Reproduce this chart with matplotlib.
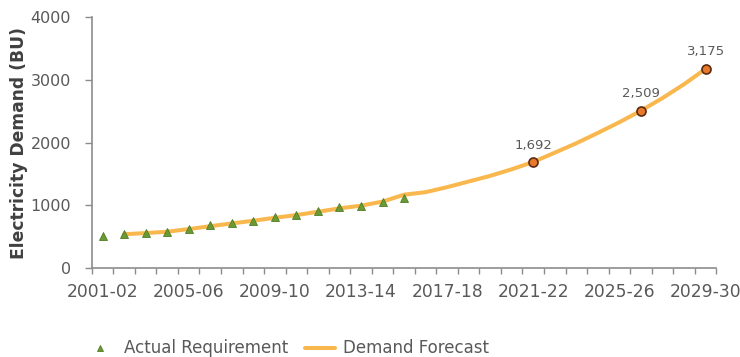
import matplotlib
matplotlib.use('Agg')
import matplotlib.pyplot as plt
import numpy as np

# fiscal years on the x axis
years = ['2001-02', '2002-03', '2003-04', '2004-05', '2005-06', '2006-07',
         '2007-08', '2008-09', '2009-10', '2010-11', '2011-12', '2012-13',
         '2013-14', '2014-15', '2015-16', '2016-17', '2017-18', '2018-19',
         '2019-20', '2020-21', '2021-22', '2022-23', '2023-24', '2024-25',
         '2025-26', '2026-27', '2027-28', '2028-29', '2029-30']
tick_labels = ['2001-02', '2005-06', '2009-10', '2013-14',
               '2017-18', '2021-22', '2025-26', '2029-30']

# actual requirement, 2001-02 .. 2015-16
actual = [505, 540, 555, 578, 618, 680, 725, 757, 820, 852, 915, 978, 990, 1052, 1110]

# demand forecast, 2002-03 .. 2029-30
forecast = [540, 558, 580, 622, 668, 712, 755, 802, 845, 898, 952, 995, 1060, 1170,
            1210, 1290, 1380, 1470, 1575, 1692, 1840, 1990, 2155, 2325, 2509,
            2710, 2930, 3175]

# labelled forecast points
marked_years = ['2021-22', '2026-27', '2029-30']
marked_values = [1692, 2509, 3175]

x_actual = np.arange(len(actual))
x_forecast = np.arange(1, 1 + len(forecast))
x_marked = [years.index(y) for y in marked_years]

text_col = '#595959'
axis_col = '#8c8c8c'

fig = plt.figure(figsize=(7.4, 3.57), dpi=100)
ax = fig.add_axes([0.124, 0.249, 0.844, 0.703])

ax.plot(x_forecast, forecast, color='#F9B84E', lw=2.9, solid_capstyle='round',
        zorder=2, label='Demand Forecast')
ax.plot(x_actual, actual, ls='none', marker='^', ms=6, mfc='#6B9A35',
        mec='#4E7D24', mew=0.6, zorder=3, label='Actual Requirement')
ax.plot(x_marked, marked_values, ls='none', marker='o', ms=6.5, mfc='#E8782A',
        mec='#5A2A10', mew=1.2, zorder=4)

for xm, v in zip(x_marked, marked_values):
    ax.annotate(f'{v:,}', (xm, v), xytext=(0, 7.5), textcoords='offset points',
                ha='center', va='bottom', fontsize=9.5, color=text_col)

ax.set_xlim(-0.5, len(years) - 0.5)
ax.set_ylim(0, 4000)
ax.set_yticks([0, 1000, 2000, 3000, 4000])
ax.set_xticks([years.index(t) for t in tick_labels])
ax.set_xticklabels(tick_labels)
ax.set_xticks(np.arange(-0.5, len(years)), minor=True)

ax.tick_params(axis='x', which='major', length=0, pad=11, labelsize=12.3, labelcolor=text_col)
ax.tick_params(axis='x', which='minor', length=4, width=1, color=axis_col, direction='out')
ax.tick_params(axis='y', length=5, width=1, color=axis_col, labelsize=11.5,
               labelcolor=text_col, pad=10)

for s in ['top', 'right']:
    ax.spines[s].set_visible(False)
for s in ['left', 'bottom']:
    ax.spines[s].set_color(axis_col)
    ax.spines[s].set_linewidth(1.2)

ax.set_ylabel('Electricity Demand (BU)', fontsize=12.3, fontweight='bold',
              color='#404040', labelpad=2)

handles, labels = ax.get_legend_handles_labels()
fig.legend(handles[::-1], labels[::-1], loc='center left', bbox_to_anchor=(0.095, 0.024),
           ncol=2, frameon=False, fontsize=12, labelcolor=text_col,
           handlelength=1.8, handletextpad=0.5, columnspacing=1.0, markerscale=0.8)

fig.savefig('out.png', dpi=100, facecolor='white')
